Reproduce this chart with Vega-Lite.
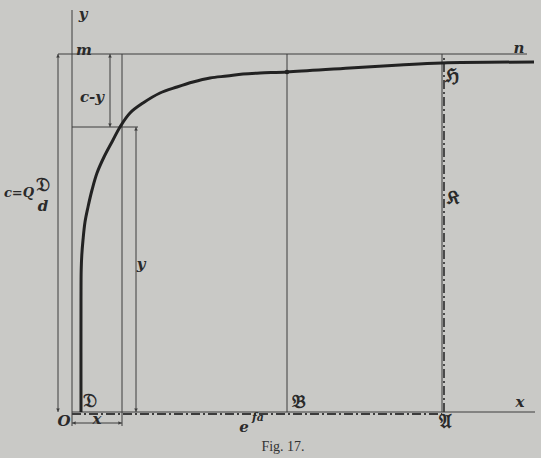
{
  "$schema": "https://vega.github.io/schema/vega-lite/v6.json",
  "width": 541,
  "height": 458,
  "autosize": {"type": "fit", "contains": "padding"},
  "padding": 0,
  "background": "#c9c9c6",
  "config": {"view": {"stroke": null}},
  "datasets": {
    "thin": [
      {"x": 0, "y": -14, "x2": 0, "y2": 402},
      {"x": -14, "y": 358, "x2": 455, "y2": 358},
      {"x": 0, "y": 0, "x2": 463, "y2": 0},
      {"x": 0, "y": 285, "x2": 66, "y2": 285},
      {"x": 50, "y": -14, "x2": 50, "y2": 358},
      {"x": 215, "y": 0, "x2": 215, "y2": 358},
      {"x": -14, "y": 0, "x2": -14, "y2": 358},
      {"x": 38, "y": 285, "x2": 38, "y2": 358},
      {"x": 64, "y": 0, "x2": 64, "y2": 285},
      {"x": 0, "y": -11, "x2": 50, "y2": -11},
      {"x": 370, "y": 0, "x2": 370, "y2": 358}
    ],
    "dashdot": [
      {"x": 0, "y": -2, "x2": 370, "y2": -2},
      {"x": 372, "y": 0, "x2": 372, "y2": 356}
    ],
    "arrows": [
      {"x": -14, "y": 356, "dir": "up"},
      {"x": -14, "y": 2, "dir": "down"},
      {"x": 38, "y": 356, "dir": "up"},
      {"x": 38, "y": 287, "dir": "down"},
      {"x": 64, "y": 283, "dir": "up"},
      {"x": 64, "y": 2, "dir": "down"},
      {"x": 2, "y": -11, "dir": "left"},
      {"x": 48, "y": -11, "dir": "right"}
    ],
    "curve": [
      {"i": 0, "x": 9, "y": 0},
      {"i": 1, "x": 9, "y": 112},
      {"i": 2, "x": 9.2, "y": 142},
      {"i": 3, "x": 9.8, "y": 157},
      {"i": 4, "x": 11, "y": 172},
      {"i": 5, "x": 13, "y": 190},
      {"i": 6, "x": 16, "y": 205},
      {"i": 7, "x": 20, "y": 222},
      {"i": 8, "x": 25, "y": 239},
      {"i": 9, "x": 32, "y": 255},
      {"i": 10, "x": 41, "y": 272},
      {"i": 11, "x": 48, "y": 285},
      {"i": 12, "x": 58, "y": 299},
      {"i": 13, "x": 71, "y": 309},
      {"i": 14, "x": 88, "y": 319},
      {"i": 15, "x": 105, "y": 325},
      {"i": 16, "x": 121, "y": 330},
      {"i": 17, "x": 138, "y": 334},
      {"i": 18, "x": 155, "y": 336},
      {"i": 19, "x": 171, "y": 338},
      {"i": 20, "x": 188, "y": 339},
      {"i": 21, "x": 215, "y": 340},
      {"i": 22, "x": 278, "y": 344},
      {"i": 23, "x": 328, "y": 347},
      {"i": 24, "x": 370, "y": 349},
      {"i": 25, "x": 462, "y": 350}
    ],
    "labels": [
      {"t": "y", "x": 11, "y": 398},
      {"t": "m", "x": 12, "y": 362},
      {"t": "n", "x": 447, "y": 364},
      {"t": "c-y", "x": 20, "y": 315},
      {"t": "y", "x": 69, "y": 148},
      {"t": "d", "x": -29, "y": 206},
      {"t": "O", "x": -8, "y": -9},
      {"t": "x", "x": 25, "y": -7},
      {"t": "e", "x": 172, "y": -15},
      {"t": "x", "x": 448, "y": 10}
    ],
    "cq": [
      {"t": "c=Q", "x": -53, "y": 219}
    ],
    "frak": [
      {"t": "𝔇", "x": -29, "y": 227},
      {"t": "𝔇", "x": 18, "y": 11},
      {"t": "𝔅", "x": 227, "y": 10},
      {"t": "𝔄", "x": 373, "y": -10},
      {"t": "ℌ", "x": 380, "y": 336},
      {"t": "𝔎", "x": 381, "y": 214}
    ],
    "small": [
      {"t": "fa", "x": 186, "y": -6}
    ],
    "caption": [
      {"t": "Fig. 17.", "x": 211, "y": -35}
    ]
  },
  "layer": [
    {
      "data": {"name": "thin"},
      "mark": {"type": "rule", "color": "#3c3c3c", "strokeWidth": 1},
      "encoding": {
        "x": {"field": "x", "type": "quantitative", "scale": {"domain": [-72, 469], "nice": false, "zero": false}, "axis": null},
        "y": {"field": "y", "type": "quantitative", "scale": {"domain": [-46, 412], "nice": false, "zero": false}, "axis": null},
        "x2": {"field": "x2"},
        "y2": {"field": "y2"}
      }
    },
    {
      "data": {"name": "dashdot"},
      "mark": {"type": "rule", "color": "#3c3c3c", "strokeWidth": 1.8, "strokeDash": [9, 3, 2, 3]},
      "encoding": {
        "x": {"field": "x", "type": "quantitative"},
        "y": {"field": "y", "type": "quantitative"},
        "x2": {"field": "x2"},
        "y2": {"field": "y2"}
      }
    },
    {
      "data": {"name": "arrows"},
      "mark": {"type": "point", "filled": true, "color": "#3c3c3c", "size": 14, "opacity": 1},
      "encoding": {
        "x": {"field": "x", "type": "quantitative"},
        "y": {"field": "y", "type": "quantitative"},
        "shape": {"field": "dir", "type": "nominal", "legend": null, "scale": {"domain": ["up", "down", "left", "right"], "range": ["triangle-up", "triangle-down", "triangle-left", "triangle-right"]}}
      }
    },
    {
      "data": {"name": "curve"},
      "mark": {"type": "line", "color": "#222222", "strokeWidth": 3, "interpolate": "catmull-rom"},
      "encoding": {
        "x": {"field": "x", "type": "quantitative"},
        "y": {"field": "y", "type": "quantitative"},
        "order": {"field": "i", "type": "quantitative"}
      }
    },
    {
      "data": {"values": [{"x": 215, "y": 340}]},
      "mark": {"type": "point", "filled": true, "color": "#222222", "size": 20, "opacity": 1},
      "encoding": {
        "x": {"field": "x", "type": "quantitative"},
        "y": {"field": "y", "type": "quantitative"}
      }
    },
    {
      "data": {"name": "labels"},
      "mark": {"type": "text", "font": "DejaVu Serif", "fontStyle": "italic", "fontWeight": "bold", "fontSize": 15, "color": "#2a2a2a", "align": "center", "baseline": "middle"},
      "encoding": {
        "x": {"field": "x", "type": "quantitative"},
        "y": {"field": "y", "type": "quantitative"},
        "text": {"field": "t", "type": "nominal"}
      }
    },
    {
      "data": {"name": "cq"},
      "mark": {"type": "text", "font": "DejaVu Serif", "fontStyle": "italic", "fontWeight": "bold", "fontSize": 13, "color": "#2a2a2a", "align": "center", "baseline": "middle"},
      "encoding": {
        "x": {"field": "x", "type": "quantitative"},
        "y": {"field": "y", "type": "quantitative"},
        "text": {"field": "t", "type": "nominal"}
      }
    },
    {
      "data": {"name": "frak"},
      "mark": {"type": "text", "font": "DejaVu Serif", "fontWeight": "bold", "fontSize": 19, "color": "#2a2a2a", "align": "center", "baseline": "middle"},
      "encoding": {
        "x": {"field": "x", "type": "quantitative"},
        "y": {"field": "y", "type": "quantitative"},
        "text": {"field": "t", "type": "nominal"}
      }
    },
    {
      "data": {"name": "small"},
      "mark": {"type": "text", "font": "DejaVu Serif", "fontStyle": "italic", "fontWeight": "bold", "fontSize": 11, "color": "#2a2a2a", "align": "center", "baseline": "middle"},
      "encoding": {
        "x": {"field": "x", "type": "quantitative"},
        "y": {"field": "y", "type": "quantitative"},
        "text": {"field": "t", "type": "nominal"}
      }
    },
    {
      "data": {"name": "caption"},
      "mark": {"type": "text", "font": "Liberation Serif", "fontSize": 14, "color": "#333333", "align": "center", "baseline": "middle"},
      "encoding": {
        "x": {"field": "x", "type": "quantitative"},
        "y": {"field": "y", "type": "quantitative"},
        "text": {"field": "t", "type": "nominal"}
      }
    }
  ]
}
